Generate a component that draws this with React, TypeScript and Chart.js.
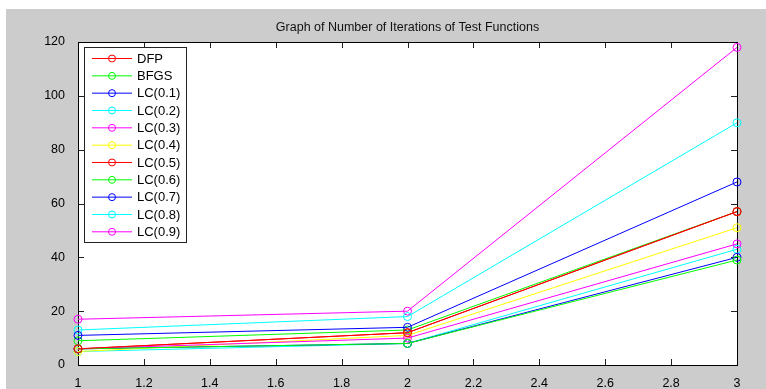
import React, { useEffect, useRef } from "react";
import { Chart, registerables } from "chart.js";

Chart.register(...registerables);

const TITLE = "Graph of Number of Iterations of Test Functions";
const xValues = [1, 2, 3];
const seriesNames = ["DFP", "BFGS", "LC(0.1)", "LC(0.2)", "LC(0.3)", "LC(0.4)", "LC(0.5)", "LC(0.6)", "LC(0.7)", "LC(0.8)", "LC(0.9)"];
const seriesColors = ["#ff0000", "#00ff00", "#0000ff", "#00ffff", "#ff00ff", "#ffff00", "#ff0000", "#00ff00", "#0000ff", "#00ffff", "#ff00ff"];
const dfp = [6, 12, 57];
const bfgs = [6, 8, 39];
const lc01 = [11, 14, 68];
const lc02 = [13, 18, 90];
const lc03 = [6, 10, 45];
const lc04 = [5, 11, 51];
const lc05 = [6, 12, 57];
const lc06 = [9, 13, 57];
const lc07 = [6, 8, 40];
const lc08 = [5, 8, 43];
const lc09 = [17, 20, 118];
const seriesValues = [dfp, bfgs, lc01, lc02, lc03, lc04, lc05, lc06, lc07, lc08, lc09];
const xTicks = [1, 1.2, 1.4, 1.6, 1.8, 2, 2.2, 2.4, 2.6, 2.8, 3];
const yTicks = [0, 20, 40, 60, 80, 100, 120];

const FONT = "'Liberation Sans', Arial, sans-serif";

const framePlugin = {
  id: "frame",
  beforeDraw(chart: any) {
    const ctx = chart.ctx;
    ctx.save();
    ctx.fillStyle = "#ffffff";
    ctx.fillRect(0, 0, chart.width, chart.height);
    ctx.fillStyle = "#cccccc";
    ctx.fillRect(6, 9, chart.width - 6, chart.height - 9);
    const a = chart.chartArea;
    ctx.fillStyle = "#ffffff";
    ctx.fillRect(a.left, a.top, a.right - a.left, a.bottom - a.top);
    ctx.fillStyle = "#111111";
    ctx.font = "12.5px " + FONT;
    ctx.textAlign = "center";
    ctx.textBaseline = "middle";
    ctx.fillText(TITLE, (a.left + a.right) / 2, 27.5);
    ctx.restore();
  },
  beforeDatasetsDraw(chart: any) {
    const ctx = chart.ctx;
    const a = chart.chartArea;
    const xs = chart.scales.x;
    const ys = chart.scales.y;
    ctx.save();
    ctx.strokeStyle = "#222222";
    ctx.lineWidth = 1;
    ctx.beginPath();
    for (const t of xTicks) {
      const px = Math.round(xs.getPixelForValue(t)) + 0.5;
      ctx.moveTo(px, a.bottom);
      ctx.lineTo(px, a.bottom - 6);
      ctx.moveTo(px, a.top);
      ctx.lineTo(px, a.top + 6);
    }
    for (const t of yTicks) {
      const py = Math.round(ys.getPixelForValue(t)) + 0.5;
      ctx.moveTo(a.left, py);
      ctx.lineTo(a.left + 6, py);
      ctx.moveTo(a.right, py);
      ctx.lineTo(a.right - 6, py);
    }
    ctx.stroke();
    ctx.strokeStyle = "#000000";
    ctx.strokeRect(Math.round(a.left) + 0.5, Math.round(a.top) + 0.5, Math.round(a.right - a.left), Math.round(a.bottom - a.top));
    ctx.restore();
  },
  afterDatasetsDraw(chart: any) {
    const ctx = chart.ctx;
    ctx.save();
    const bx = 84.5, by = 47.5, bw = 102, bh = 195;
    ctx.fillStyle = "#ffffff";
    ctx.fillRect(bx, by, bw, bh);
    ctx.strokeStyle = "#222222";
    ctx.lineWidth = 1;
    ctx.strokeRect(bx, by, bw, bh);
    ctx.font = "13px " + FONT;
    ctx.textAlign = "left";
    ctx.textBaseline = "middle";
    chart.data.datasets.forEach((ds: any, i: number) => {
      const y = 58.5 + i * 17.33;
      ctx.strokeStyle = ds.borderColor;
      ctx.beginPath();
      ctx.moveTo(92, y);
      ctx.lineTo(132, y);
      ctx.stroke();
      ctx.beginPath();
      ctx.arc(112, y, 3.5, 0, Math.PI * 2);
      ctx.stroke();
      ctx.fillStyle = "#000000";
      ctx.fillText(ds.label, 137, y + 0.5);
    });
    ctx.restore();
  },
};

export default function App() {
  const ref = useRef<HTMLCanvasElement>(null);
  useEffect(() => {
    if (!ref.current) return;
    const chart = new Chart(ref.current, {
      type: "line",
      data: {
        datasets: seriesNames.map((name, i) => ({
          label: name,
          data: xValues.map((x, j) => ({ x, y: seriesValues[i][j] })),
          borderColor: seriesColors[i],
          backgroundColor: "transparent",
          pointBorderColor: seriesColors[i],
          pointBackgroundColor: "transparent",
          pointRadius: 4,
          pointBorderWidth: 1,
          borderWidth: 1,
          tension: 0,
          clip: false as any,
        })),
      },
      options: {
        animation: false,
        responsive: false,
        maintainAspectRatio: false,
        layout: { padding: { top: 42, right: 29, left: 0, bottom: 0 } },
        plugins: { legend: { display: false }, title: { display: false }, tooltip: { enabled: false } },
        scales: {
          x: {
            type: "linear",
            min: 1,
            max: 3,
            afterBuildTicks: (s: any) => {
              s.ticks = xTicks.map((v) => ({ value: v }));
            },
            afterFit: (s: any) => {
              s.height = 24;
            },
            grid: { display: false },
            border: { display: false },
            ticks: {
              color: "#000000",
              padding: 3,
              maxRotation: 0,
              autoSkip: false,
              font: { family: FONT, size: 12.5 },
              callback: (v: any) => String(Number(Number(v).toFixed(1))),
            },
          },
          y: {
            type: "linear",
            min: 0,
            max: 120,
            afterBuildTicks: (s: any) => {
              s.ticks = yTicks.map((v) => ({ value: v }));
            },
            afterFit: (s: any) => {
              s.width = 78;
            },
            grid: { display: false },
            border: { display: false },
            ticks: {
              color: "#000000",
              padding: 5,
              font: { family: FONT, size: 12.5 },
              callback: (v: any) => String(v),
            },
          },
        },
      },
      plugins: [framePlugin],
    });
    return () => chart.destroy();
  }, []);
  return (
    <div style={{ position: "fixed", left: 0, top: 0, width: 766, height: 389 }}>
      <canvas ref={ref} width={766} height={389} style={{ width: 766, height: 389, display: "block" }} />
    </div>
  );
}
